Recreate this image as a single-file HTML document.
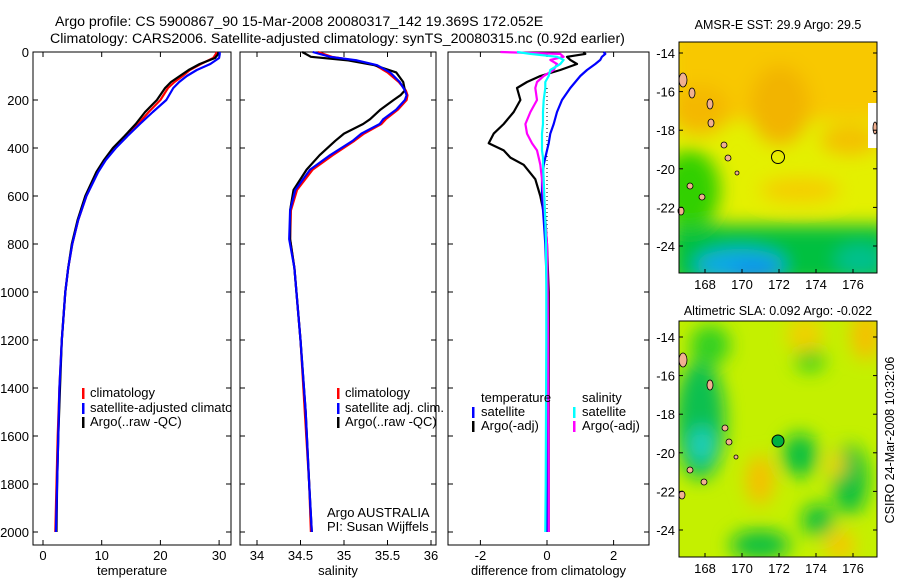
<!DOCTYPE html>
<html><head><meta charset="utf-8"><style>
body{margin:0;background:#fff}
svg{display:block;font-family:"Liberation Sans",sans-serif}
</style></head><body>
<svg id="fig" width="900" height="580" viewBox="0 0 900 580">
<defs>
<filter id="bl" x="-50%" y="-50%" width="200%" height="200%"><feGaussianBlur stdDeviation="9"/></filter>
<clipPath id="c1"><rect x="679" y="42" width="198" height="231"/></clipPath>
<clipPath id="c2"><rect x="679" y="321" width="198" height="236"/></clipPath>
<clipPath id="cp1"><rect x="33" y="52" width="198" height="493"/></clipPath>
</defs>
<text x="55" y="26" font-size="14.2">Argo profile: CS 5900867_90 15-Mar-2008 20080317_142 19.369S 172.052E</text>
<text x="50" y="43" font-size="14.2">Climatology: CARS2006. Satellite-adjusted climatology: synTS_20080315.nc (0.92d earlier)</text>

<g id="p1"></g>
<g id="p2"></g>
<g id="p3"></g>

<g font-size="13" clip-path="url(#cp1)">
<rect x="82" y="388" width="2.5" height="11" fill="#f00"/><text x="90" y="397">climatology</text>
<rect x="82" y="403" width="2.5" height="11" fill="#00f"/><text x="90" y="412">satellite-adjusted climatology</text>
<rect x="82" y="417" width="2.5" height="11" fill="#000"/><text x="90" y="426">Argo(..raw -QC)</text>
</g>
<g font-size="13">
<rect x="337" y="388" width="2.5" height="11" fill="#f00"/><text x="345" y="397">climatology</text>
<rect x="337" y="403" width="2.5" height="11" fill="#00f"/><text x="345" y="412">satellite adj. clim.</text>
<rect x="337" y="417" width="2.5" height="11" fill="#000"/><text x="345" y="426">Argo(..raw -QC)</text>
<text x="327" y="517">Argo AUSTRALIA</text>
<text x="327" y="531">PI: Susan Wijffels</text>
</g>
<g font-size="13">
<text x="481" y="402">temperature</text>
<rect x="472" y="407" width="2.5" height="11" fill="#00f"/><text x="481" y="416">satellite</text>
<rect x="472" y="421" width="2.5" height="11" fill="#000"/><text x="481" y="430">Argo(-adj)</text>
<text x="582" y="402">salinity</text>
<rect x="573" y="407" width="2.5" height="11" fill="#0ff"/><text x="582" y="416">satellite</text>
<rect x="573" y="421" width="2.5" height="11" fill="#f0f"/><text x="582" y="430">Argo(-adj)</text>
</g>

<g>
<text x="778" y="29" font-size="12.5" text-anchor="middle">AMSR-E SST: 29.9 Argo: 29.5</text>
<g clip-path="url(#c1)">
<rect x="679" y="42" width="198" height="231" fill="#e4f000"/>
<g filter="url(#bl)">
<rect x="670" y="30" width="220" height="90" fill="#f8c800"/>
<ellipse cx="780" cy="105" rx="30" ry="40" fill="#f2b400"/>
<ellipse cx="700" cy="110" rx="30" ry="25" fill="#f4b800"/>
<ellipse cx="850" cy="140" rx="30" ry="15" fill="#f4c000"/>
<ellipse cx="800" cy="190" rx="40" ry="12" fill="#f6cc00"/>
<rect x="670" y="225" width="220" height="60" fill="#00c040"/>
<ellipse cx="690" cy="190" rx="30" ry="40" fill="#30d000"/>
<ellipse cx="740" cy="265" rx="45" ry="16" fill="#10a8e8"/>
<ellipse cx="755" cy="272" rx="25" ry="8" fill="#1088f0"/>
<ellipse cx="860" cy="260" rx="25" ry="15" fill="#00c090"/>
</g>
<rect x="868" y="103" width="9" height="45" fill="#fff"/>
</g>
<circle cx="778" cy="157" r="6.5" fill="none" stroke="#000"/>
<g fill="#f0b090" stroke="#000" stroke-width="0.8">
<ellipse cx="683" cy="80" rx="4" ry="7"/><ellipse cx="692" cy="93" rx="3" ry="5"/><ellipse cx="710" cy="104" rx="3" ry="5"/><ellipse cx="711" cy="123" rx="3" ry="4"/><ellipse cx="724" cy="145" rx="3" ry="3"/><ellipse cx="728" cy="158" rx="3" ry="3"/><ellipse cx="737" cy="173" rx="2" ry="2"/><ellipse cx="690" cy="186" rx="3" ry="3"/><ellipse cx="702" cy="197" rx="3" ry="3"/><ellipse cx="681" cy="211" rx="3" ry="4"/><ellipse cx="875" cy="128" rx="2" ry="6"/>
</g>
<rect x="679" y="42" width="198" height="231" fill="none" stroke="#000"/>
<g id="m1ax"></g>
</g>

<g>
<text x="778" y="315" font-size="12.5" text-anchor="middle">Altimetric SLA: 0.092 Argo: -0.022</text>
<g clip-path="url(#c2)">
<rect x="679" y="321" width="198" height="236" fill="#c4f000"/>
<g filter="url(#bl)">
<ellipse cx="700" cy="420" rx="25" ry="60" fill="#10c050"/>
<ellipse cx="702" cy="445" rx="12" ry="18" fill="#20d0c0"/>
<ellipse cx="800" cy="455" rx="18" ry="22" fill="#10c040"/>
<ellipse cx="850" cy="480" rx="18" ry="35" fill="#10c040"/>
<ellipse cx="818" cy="520" rx="16" ry="16" fill="#10c040"/>
<ellipse cx="760" cy="545" rx="30" ry="15" fill="#10c040"/>
<ellipse cx="810" cy="360" rx="15" ry="12" fill="#30d020"/>
<ellipse cx="760" cy="480" rx="14" ry="25" fill="#f5c000"/>
<ellipse cx="805" cy="335" rx="18" ry="18" fill="#f0d000"/>
<ellipse cx="866" cy="335" rx="15" ry="25" fill="#f5c000"/>
<ellipse cx="840" cy="545" rx="15" ry="15" fill="#f5c800"/>
<ellipse cx="836" cy="465" rx="10" ry="12" fill="#f0d000"/>
<ellipse cx="710" cy="345" rx="20" ry="20" fill="#30d020"/>
</g>
</g>
<circle cx="778" cy="441" r="6" fill="#00b040" stroke="#000"/>
<g fill="#f0b090" stroke="#000" stroke-width="0.8">
<ellipse cx="683" cy="360" rx="4" ry="7"/><ellipse cx="710" cy="385" rx="3" ry="5"/><ellipse cx="725" cy="428" rx="3" ry="3"/><ellipse cx="729" cy="442" rx="3" ry="3"/><ellipse cx="690" cy="470" rx="3" ry="3"/><ellipse cx="704" cy="482" rx="3" ry="3"/><ellipse cx="682" cy="495" rx="3" ry="4"/><ellipse cx="736" cy="457" rx="2" ry="2"/>
</g>
<rect x="679" y="321" width="198" height="236" fill="none" stroke="#000"/>
<g id="m2ax"></g>
</g>
<text transform="translate(894,440) rotate(-90)" font-size="12.5" text-anchor="middle">CSIRO 24-Mar-2008 10:32:06</text>
</svg>
<script>
const tDepth = [0,10,25,50,75,100,125,150,200,250,300,350,400,450,500,600,700,800,900,1000,1200,1400,1600,1800,2000];
const tClim  = [29.6,29.4,29.0,26.9,25.0,23.8,22.4,21.3,20.0,18.0,16.2,14.2,12.3,10.6,9.3,7.4,6.0,5.0,4.3,3.8,3.2,2.8,2.5,2.3,2.1];
const tSat   = [30.1,30.1,30.0,28.5,26.2,24.5,23.2,22.2,21.0,18.7,16.5,14.4,12.4,10.7,9.4,7.4,6.0,5.0,4.3,3.8,3.2,2.8,2.6,2.4,2.2];
const tArgo  = [29.9,29.8,29.3,26.7,24.8,23.3,21.8,20.8,19.4,17.4,15.8,13.9,11.9,10.4,9.1,7.2,5.9,4.9,4.3,3.8,3.2,2.9,2.6,2.4,2.3];
const sDepth = [0,20,35,55,85,125,160,180,200,240,280,300,340,370,430,490,575,660,780,900,1200,1500,1800,2000];
const sClim  = [34.7,34.86,35.12,35.36,35.5,35.63,35.71,35.73,35.72,35.62,35.48,35.43,35.23,35.12,34.87,34.64,34.46,34.39,34.38,34.43,34.5,34.55,34.6,34.62];
const sSat   = [34.64,34.84,35.15,35.38,35.53,35.64,35.7,35.72,35.7,35.6,35.45,35.41,35.2,35.1,34.84,34.61,34.44,34.38,34.37,34.43,34.5,34.56,34.6,34.63];
const sArgo  = [34.52,34.62,35.05,35.35,35.6,35.68,35.7,35.65,35.57,35.42,35.3,35.22,35.0,34.9,34.72,34.57,34.42,34.38,34.38,34.43,34.5,34.56,34.6,34.63];
const dDepth = [0,8,20,33,50,75,100,125,150,200,250,300,340,380,410,440,470,530,600,700,800,1000,1200,1500,1800,2000];
const dTSat  = [1.7,1.75,1.65,1.6,1.45,1.2,1.0,0.85,0.7,0.45,0.3,0.2,0.1,0.05,0.0,-0.05,-0.1,-0.15,-0.15,-0.1,-0.05,0.0,0.0,0.0,0.0,0.0];
const dTArgo = [1.1,1.15,0.6,0.7,0.9,0.4,-0.2,-0.6,-0.9,-0.8,-1.0,-1.3,-1.6,-1.75,-1.3,-1.1,-0.7,-0.35,-0.2,-0.05,0.0,0.05,0.05,0.05,0.05,0.05];
const dSSat  = [-0.9,-0.5,0.3,0.5,0.4,0.1,0.05,-0.05,-0.05,-0.1,-0.12,-0.12,-0.15,-0.15,-0.15,-0.12,-0.12,-0.1,-0.08,-0.05,-0.03,-0.02,-0.02,-0.03,-0.04,-0.05];
const dSArgo = [-1.4,0.4,0.5,0.1,0.3,0.2,-0.1,-0.3,-0.35,-0.3,-0.5,-0.65,-0.6,-0.45,-0.3,-0.25,-0.2,-0.15,-0.1,-0.05,0.0,0.02,0.03,0.04,0.05,0.05];
const depthTicks = [0,200,400,600,800,1000,1200,1400,1600,1800,2000];
const tTicks = [0,10,20,30];
const sTicks = [34,34.5,35,35.5,36];
const dTicks = [-2,0,2];
const lonTicks = [168,170,172,174,176];
const lat1Ticks = [14,16,18,20,22,24];
const lat2Ticks = [14,16,18,20,22,24];

const NS='http://www.w3.org/2000/svg';
function mk(tag, attrs, parent){const e=document.createElementNS(NS,tag);for(const k in attrs)e.setAttribute(k,attrs[k]);parent.appendChild(e);return e;}
const yD = d => 52 + d*0.24;
const plotTop=52, plotBot=545;

function panel(gid, x0, x1, xs, ticks, leftLabels, xlabel){
  const g=document.getElementById(gid);
  ticks.forEach(t=>{
    const x=xs(t);
    const a=mk('line',{x1:x,x2:x,y1:plotTop,y2:plotTop+5,stroke:'#000'},g);
    
    
    const b=mk('line',{x1:x,x2:x,y1:plotBot,y2:plotBot-5,stroke:'#000'},g);
    
    
    const tx=mk('text',{x:x,y:plotBot+15,'font-size':13,'text-anchor':'middle'},g);
    tx.textContent=String(t);
    
    
  });
  depthTicks.forEach(d=>{
    const y=yD(d);
    const a=mk('line',{x1:x0,x2:x0+5,y1:y,y2:y,stroke:'#000'},g);
    
    
    const b=mk('line',{x1:x1,x2:x1-5,y1:y,y2:y,stroke:'#000'},g);
    
    
    if(leftLabels){
      const tx=mk('text',{x:x0-4,y:y+5,'font-size':13,'text-anchor':'end'},g);
      tx.textContent=String(d);
      
      
    }
  });
  const r=mk('rect',{x:x0,y:plotTop,width:x1-x0,height:plotBot-plotTop,fill:'none',stroke:'#000'},g);
  
  
  const xl=mk('text',{x:(x0+x1)/2,y:575,'font-size':13,'text-anchor':'middle'},g);
  xl.textContent=xlabel;
  
  
  return g;
}
function line(g, depths, vals, xs, color, name){
  const pts=depths.map((d,i)=>xs(vals[i]).toFixed(1)+','+yD(d).toFixed(1)).join(' ');
  const p=mk('polyline',{points:pts,fill:'none',stroke:color,'stroke-width':2.2,'stroke-linejoin':'round'},g);
  
  
}
const xT = v => 43 + v*5.87;
const xS = v => 257 + (v-34)*87;
const xDf = v => 547 + v*33.3;

const g1=panel('p1',33,231,xT,tTicks,true,'temperature');
line(g1,tDepth,tClim,xT,'#f00','temp-climatology-line');
line(g1,tDepth,tArgo,xT,'#000','temp-argo-line');
line(g1,tDepth,tSat,xT,'#00f','temp-satellite-line');

const g2=panel('p2',240,436,xS,sTicks,false,'salinity');
line(g2,sDepth,sClim,xS,'#f00','sal-climatology-line');
line(g2,sDepth,sArgo,xS,'#000','sal-argo-line');
line(g2,sDepth,sSat,xS,'#00f','sal-satellite-line');

const g3=panel('p3',448,649,xDf,dTicks,false,'difference from climatology');
const z=mk('line',{x1:xDf(0),x2:xDf(0),y1:yD(150),y2:yD(2000),stroke:'#000','stroke-dasharray':'1,3'},g3);


line(g3,dDepth,dTArgo,xDf,'#000','temp-argo-diff-line');
line(g3,dDepth,dTSat,xDf,'#00f','temp-satellite-diff-line');
line(g3,dDepth,dSArgo,xDf,'#f0f','sal-argo-diff-line');
line(g3,dDepth,dSSat,xDf,'#0ff','sal-satellite-diff-line');

function mapAxes(gid, yBot, latTicks, lat0y, latScale){
  const g=document.getElementById(gid);
  const lonX = v => 705 + (v-168)*18.5;
  lonTicks.forEach(l=>{
    const x=lonX(l);
    const a=mk('line',{x1:x,x2:x,y1:yBot,y2:yBot-4,stroke:'#000'},g);
    
    
    const tx=mk('text',{x:x,y:yBot+16,'font-size':13,'text-anchor':'middle'},g);
    tx.textContent=String(l);
    
    
  });
  latTicks.forEach(l=>{
    const y=lat0y+(l-14)*latScale;
    const a=mk('line',{x1:679,x2:683,y1:y,y2:y,stroke:'#000'},g);
    
    
    const b=mk('line',{x1:877,x2:873,y1:y,y2:y,stroke:'#000'},g);
    
    
    const tx=mk('text',{x:675,y:y+5,'font-size':13,'text-anchor':'end'},g);
    tx.textContent='-'+l;
    
    
  });
}
mapAxes('m1ax',273,lat1Ticks,53,19.3);
mapAxes('m2ax',557,lat2Ticks,337,19.3);
</script>
</body></html>
